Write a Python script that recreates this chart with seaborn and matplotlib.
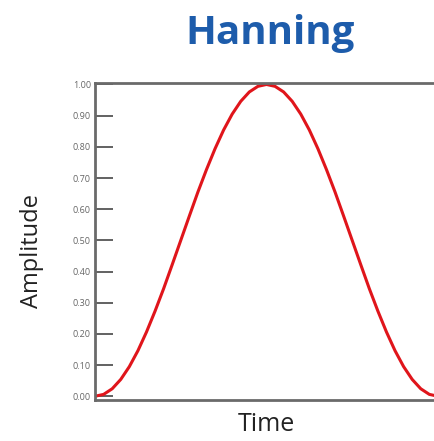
import pandas as pd
import matplotlib
matplotlib.use("Agg")
import matplotlib.pyplot as plt
import seaborn as sns

# values (41 samples across the window)
time_idx = list(range(41))
amplitude = [0.000, 0.006, 0.024, 0.054, 0.095, 0.146, 0.206, 0.273, 0.345, 0.422,
             0.500, 0.578, 0.655, 0.727, 0.794, 0.854, 0.905, 0.946, 0.976, 0.994,
             1.000, 0.994, 0.976, 0.946, 0.905, 0.854, 0.794, 0.727, 0.655, 0.578,
             0.500, 0.422, 0.345, 0.273, 0.206, 0.146, 0.095, 0.054, 0.024, 0.006, 0.000]
ytick_vals = [0.0, 0.1, 0.2, 0.3, 0.4, 0.5, 0.6, 0.7, 0.8, 0.9, 1.0]

df = pd.DataFrame({"Time": time_idx, "Amplitude": amplitude})

sns.set_style("white")
plt.rcParams['font.family'] = ['Open Sans', 'DejaVu Sans']

fig = plt.figure(figsize=(4.34, 4.41), dpi=100)
ax = fig.add_axes([0.219, 0.093, 0.79, 0.719])

sns.lineplot(data=df, x="Time", y="Amplitude", color="#e0151b", linewidth=2.2, ax=ax)

ax.set_xlim(0, 40)
ax.set_ylim(-0.012, 1.005)
ax.set_xticks([])
ax.set_yticks(ytick_vals)
ax.set_yticklabels([f"{v:.2f}" for v in ytick_vals], fontsize=6.5, color="#666666")
ax.tick_params(axis="y", direction="in", length=13, width=1.3, color="#555555", pad=3, left=True)

for s in ax.spines.values():
    s.set_color("#6a6a6a")
    s.set_linewidth(2)
    s.set_visible(True)

ax.set_xlabel("Time", fontsize=18, color="#222222", labelpad=9)
ax.set_ylabel("Amplitude", fontsize=17, color="#222222")
ax.yaxis.set_label_coords(-0.148, 0.47)

fig.text(0.623, 0.925, "Hanning", fontsize=29, fontweight="bold", color="#1d5cab",
         ha="center", va="center")

fig.savefig("out.png", dpi=100)
